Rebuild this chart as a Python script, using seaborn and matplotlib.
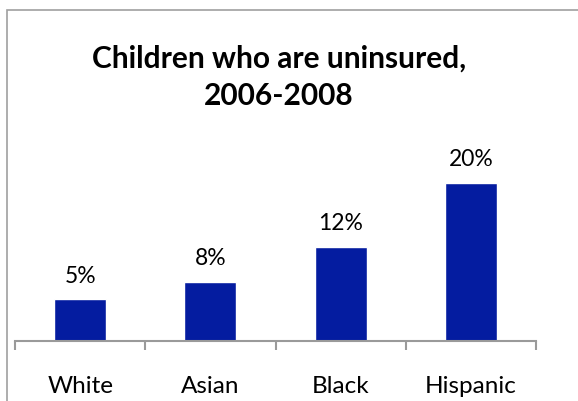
import matplotlib
matplotlib.use("Agg")
import matplotlib.pyplot as plt
import seaborn as sns
import pandas as pd
from matplotlib.patches import Rectangle

categories = ["White", "Asian", "Black", "Hispanic"]
values = [5.3, 7.5, 11.9, 20.0]
value_labels = ["5%", "8%", "12%", "20%"]
title = "Children who are uninsured,\n2006-2008"

sns.set_theme(style="white")
plt.rcParams['font.family'] = ['Lato', 'DejaVu Sans']
plt.rcParams['text.color'] = 'black'

df = pd.DataFrame({"cat": categories, "val": values})

W, H = 578, 401
fig = plt.figure(figsize=(W / 100, H / 100), dpi=100)
ax = fig.add_axes([15 / W, 60 / H, 521 / W, 197.5 / H])
sns.barplot(data=df, x="cat", y="val", color="#041CA0", saturation=1, width=0.4, ax=ax)

ax.set_xlim(-0.5, 3.5)
ax.set_ylim(0, 25)
for s in ["top", "right", "left"]:
    ax.spines[s].set_visible(False)
ax.spines["bottom"].set_color("#9a9a9a")
ax.spines["bottom"].set_linewidth(1.5)
ax.set_yticks([])
ax.set_xlabel("")
ax.set_ylabel("")
ax.set_xticks(range(len(categories)))
ax.set_xticklabels(categories, fontsize=17.5, color="black")
ax.tick_params(axis="x", which="major", length=0, pad=25)
ax.set_xticks([-0.5, 0.5, 1.5, 2.5, 3.5], minor=True)
ax.tick_params(axis="x", which="minor", length=6.5, width=1.5, color="#9a9a9a", direction="out", bottom=True)

for i, (v, lab) in enumerate(zip(values, value_labels)):
    ax.annotate(lab, (i, v), xytext=(0, 9), textcoords="offset points",
                ha="center", va="bottom", fontsize=16.5, color="black")

fig.text(279 / W, 1 - 77 / H, title, ha="center", va="center", fontsize=21.5,
         fontweight="bold", linespacing=1.4, color="black")

fig.patches.append(Rectangle((7 / W, -0.1), 1.2, 1.1 - 10 / H,
                             transform=fig.transFigure, fill=False,
                             edgecolor="#a0a0a0", linewidth=1.2))

fig.savefig("out.png", dpi=100)
